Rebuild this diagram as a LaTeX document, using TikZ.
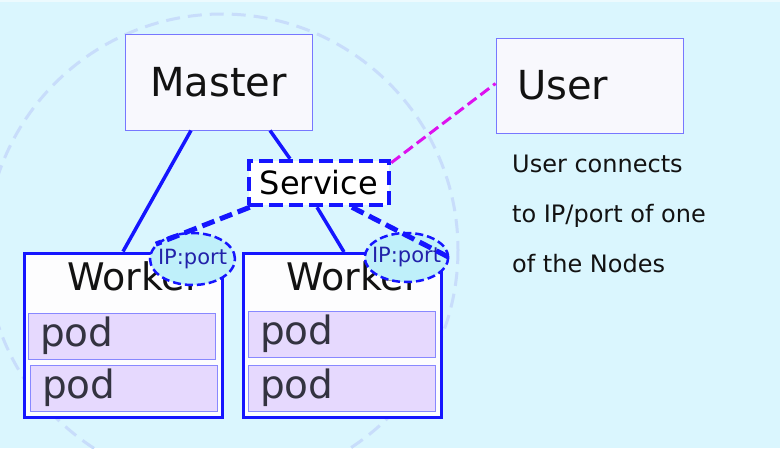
\documentclass[tikz,border=0pt]{standalone}
\usepackage{fontspec}
\setmainfont{DejaVu Sans}
\usetikzlibrary{shapes.geometric}

\begin{document}
\begin{tikzpicture}[x=1pt, y=-1pt,
    plainbox/.style={draw=boxedge, line width=1pt, fill=boxfill, text=black!93, inner sep=0pt},
    workerbox/.style={draw=linkblue, line width=3pt, fill=white!70!boxfill, minimum width=198pt, minimum height=164pt},
    podbox/.style={draw=podedge, line width=1pt, fill=podfill, text=podtext, minimum width=187pt, minimum height=46pt,
        text width=163pt, inner xsep=12pt, align=left, font=\fontsize{39}{44}\selectfont},
    ipnode/.style={ellipse, draw=linkblue, line width=2.5pt, dash pattern=on 8pt off 4pt, fill=ipfill, text=iptext,
        inner xsep=-5pt, inner ysep=0pt, font=\fontsize{21}{24}\selectfont},
    link/.style={draw=linkblue, line width=3.5pt},
    svclink/.style={draw=linkblue, line width=5pt, dash pattern=on 13pt off 6pt},
    notetext/.style={anchor=base west, inner sep=0pt, font=\fontsize{24}{28}\selectfont, text=black!93}]
    % Define custom colors
    \definecolor{bgcyan}{RGB}{218,246,254}
    \definecolor{ringblue}{RGB}{200,221,251}
    \definecolor{boxfill}{RGB}{248,248,253}
    \definecolor{boxedge}{RGB}{119,119,255}
    \definecolor{linkblue}{RGB}{21,21,255}
    \definecolor{podfill}{RGB}{230,217,254}
    \definecolor{podedge}{RGB}{136,136,255}
    \definecolor{podtext}{RGB}{51,51,64}
    \definecolor{ipfill}{RGB}{191,240,250}
    \definecolor{iptext}{RGB}{34,34,170}
    \definecolor{usermag}{RGB}{221,17,238}

    % Background and cluster ring
    \useasboundingbox (0,0) rectangle (780,448);
    \clip (0,0) rectangle (780,448);
    \fill[bgcyan] (0,0) rectangle (780,448);
    \fill[white!50!bgcyan] (0,0) rectangle (780,2);
    \draw[ringblue, line width=3pt, dash pattern=on 14pt off 8pt] (222,250) circle (236);

    % Master and User
    \node[plainbox, minimum width=187pt, minimum height=96pt, font=\fontsize{40}{48}\selectfont] (master) at (218.5,82) {Master};
    \node[plainbox, minimum width=187pt, minimum height=95pt, text width=145pt, inner xsep=21pt, align=left,
        font=\fontsize{40}{48}\selectfont] (user) at (589.5,85.5) {User};

    % Service
    \node[draw=linkblue, line width=4.5pt, dash pattern=on 14pt off 6pt, fill=white, minimum width=140pt, minimum height=44pt,
        inner sep=0pt, font=\fontsize{32}{38}\selectfont] (service) at (319,183) {Service};

    % Workers
    \node[workerbox] (workerA) at (123,335) {};
    \node[workerbox] (workerB) at (342,335.5) {};
    \node[font=\fontsize{38}{44}\selectfont, text=black!93, inner sep=0pt] (workerAlabel) at (134,276) {Worker};
    \node[font=\fontsize{38}{44}\selectfont, text=black!93, inner sep=0pt] (workerBlabel) at (353,276) {Worker};

    % Pods
    \node[podbox] (podA1) at (121.5,336) {pod};
    \node[podbox] (podA2) at (123.5,388) {pod};
    \node[podbox] (podB1) at (341.5,334) {pod};
    \node[podbox] (podB2) at (341.5,388) {pod};

    % Connections from Master and Service
    \draw[link] ([xshift=-27.5pt]master.south) -- (workerA.north);
    \draw[link] ([xshift=51.5pt]master.south) -- ([xshift=-29pt]service.north);
    \draw[link] ([xshift=-2pt]service.south) -- ([xshift=2pt]workerB.north);

    % Node ports
    \node[ipnode, minimum width=85pt, minimum height=52pt] (ipA) at (192.5,259) {IP:port};
    \node[ipnode, minimum width=83pt, minimum height=49pt] (ipB) at (406.5,257.5) {IP:port};
    \draw[svclink] ([xshift=3pt]service.south west) -- (ipA.158);
    \draw[svclink] ([xshift=33pt]service.south) -- (ipB.east);

    % User link
    \draw[usermag, line width=3pt, dash pattern=on 11pt off 5pt] ([yshift=-4pt]service.north east) -- ([yshift=2pt]user.west);

    % Note
    \node[notetext] (note1) at (512,172) {User connects};
    \node[notetext] (note2) at (512,222) {to IP/port of one};
    \node[notetext] (note3) at (512,272) {of the Nodes};
\end{tikzpicture}
\end{document}
